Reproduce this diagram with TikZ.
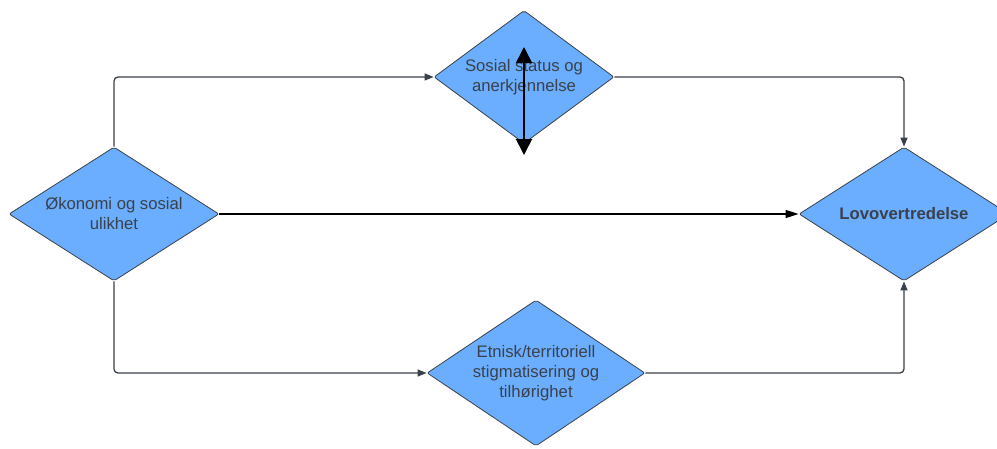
\documentclass[tikz,border=0pt]{standalone}
\usepackage{fontspec}
\setmainfont{Liberation Sans}
\usetikzlibrary{shapes.geometric,arrows.meta}
\definecolor{lucidblue}{RGB}{107,174,255}
\definecolor{lucidgray}{RGB}{58,65,74}
\begin{document}
\begin{tikzpicture}[x=1pt,y=-1pt,
  dia/.style={diamond, draw=lucidgray, fill=lucidblue, line width=0.8pt, rounded corners=2pt,
    inner sep=0pt, align=center, text=lucidgray, font=\fontsize{16.7}{20}\selectfont},
  conn/.style={draw=lucidgray, line width=1.3pt, rounded corners=4pt, -{Triangle[length=9pt,width=7pt]}},
  blackconn/.style={draw=black, line width=1.3pt, -{Triangle[length=13pt,width=8pt]}},
  dbl/.style={draw=black, line width=1.6pt, {Triangle[length=16pt,width=16pt]}-{Triangle[length=16pt,width=16pt]}},
]
\clip (0,0) rectangle (997,448);
\node[dia, aspect=1.567, minimum width=210pt, minimum height=134pt] (oko) at (114,214) {Økonomi og sosial\\ulikhet};
\node[dia, aspect=1.35, minimum width=180pt, minimum height=133pt] (sos) at (524,77) {Sosial status og\\anerkjennelse};
\node[dia, aspect=1.49, minimum width=218pt, minimum height=146pt] (etn) at (536,373) {Etnisk/territoriell\\stigmatisering og\\tilhørighet};
\node[dia, aspect=1.567, minimum width=210pt, minimum height=134pt, font=\fontsize{16.7}{20}\selectfont\bfseries] (lov) at (904,214) {Lovovertredelse};
\draw[conn] (oko.north) |- (sos.west);
\draw[conn] (oko.south) |- (etn.west);
\draw[conn] (sos.east) -| (lov.north);
\draw[conn] (etn.east) -| (lov.south);
\draw[blackconn] (oko.east) -- (lov.west);
\coordinate (vt) at (524,47);
\coordinate (vb) at (524,155);
\draw[dbl] (vt) -- (vb);
\end{tikzpicture}
\end{document}
